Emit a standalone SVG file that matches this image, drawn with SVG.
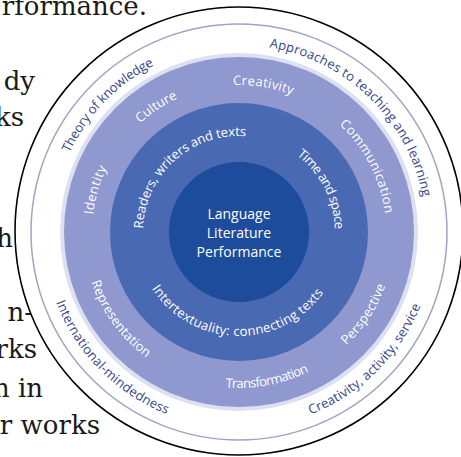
<svg xmlns="http://www.w3.org/2000/svg" width="461" height="457" viewBox="0 0 461 457">
<style>
.body{font-family:"DejaVu Serif","Liberation Serif",serif;font-size:26px;fill:#1a1a1a;text-anchor:end}
.o{font-family:"Open Sans","Noto Sans",sans-serif;font-size:13px;fill:#34468a}
.w{font-family:"Open Sans","Noto Sans",sans-serif;font-size:13px;fill:#ffffff}
.c{font-family:"Open Sans","Noto Sans",sans-serif;font-size:14px;fill:#ffffff;text-anchor:middle}
</style>
<defs>
<path id="p-tok" d="M69.5,153.0 A187,187 0 0 1 157.0,63.9"/>
<path id="p-atl" d="M269.2,47.4 A187,187 0 0 1 423.2,199.8"/>
<path id="p-cas" d="M310.5,414.5 A196,196 0 0 0 421.5,303.5"/>
<path id="p-im" d="M56.0,302.2 A196,196 0 0 0 168.8,415.0"/>
<path id="p-identity" d="M93.0,214.8 A147,147 0 0 1 107.3,166.6"/>
<path id="p-culture" d="M140.1,123.2 A147,147 0 0 1 178.7,97.9"/>
<path id="p-creativity" d="M233.1,85.1 A147,147 0 0 1 293.1,95.3"/>
<path id="p-communication" d="M339.3,124.5 A147,147 0 0 1 385.1,215.4"/>
<path id="p-perspective" d="M346.2,345.3 A156,156 0 0 0 386.0,284.3"/>
<path id="p-transformation" d="M225.4,387.4 A156,156 0 0 0 309.8,371.0"/>
<path id="p-representation" d="M91.2,282.0 A156,156 0 0 0 148.2,358.8"/>
<path id="p-rwt" d="M143.1,228.6 A96,96 0 0 1 248.2,136.4"/>
<path id="p-ts" d="M296.8,155.3 A96,96 0 0 1 335.0,231.0"/>
<path id="p-it" d="M151.8,288.6 A104,104 0 0 0 325.2,290.2"/>
</defs>
<rect width="461" height="457" fill="#ffffff"/>
<g id="page-text">
<text class="body" x="147" y="15">rformance.</text>
<text class="body" x="35" y="90">dy</text>
<text class="body" x="24" y="126">ks</text>
<text class="body" x="13" y="247">h</text>
<text class="body" x="33" y="321">n-</text>
<text class="body" x="37" y="358">rks</text>
<text class="body" x="43" y="397">n in</text>
<text class="body" x="100" y="434">r works</text>
</g>
<g id="outer-ring">
<circle cx="239" cy="231" r="224" fill="#ffffff" stroke="#000000" stroke-width="1.6"/>
<circle cx="239" cy="232" r="208" fill="none" stroke="#9ea5c4" stroke-width="1.5"/>
<circle cx="239" cy="232" r="179" fill="#dde0f1"/>
<text class="o"><textPath href="#p-tok" textLength="124">Theory of knowledge</textPath></text>
<text class="o"><textPath href="#p-atl" textLength="228">Approaches to teaching and learning</textPath></text>
<text class="o"><textPath href="#p-cas" textLength="159">Creativity, activity, service</textPath></text>
<text class="o"><textPath href="#p-im" textLength="162">International-mindedness</textPath></text>
</g>
<g id="concepts-ring">
<circle cx="239" cy="232" r="175" fill="#8f98cf"/>
<text class="w"><textPath href="#p-identity" textLength="49">Identity</textPath></text>
<text class="w"><textPath href="#p-culture" textLength="45">Culture</textPath></text>
<text class="w"><textPath href="#p-creativity" textLength="60">Creativity</textPath></text>
<text class="w"><textPath href="#p-communication" textLength="102">Communication</textPath></text>
<text class="w"><textPath href="#p-perspective" textLength="72">Perspective</textPath></text>
<text class="w"><textPath href="#p-transformation" textLength="86">Transformation</textPath></text>
<text class="w"><textPath href="#p-representation" textLength="95">Representation</textPath></text>
</g>
<g id="areas-ring">
<circle cx="239" cy="232" r="129" fill="#4a69b3"/>
<text class="w"><textPath href="#p-rwt" textLength="154">Readers, writers and texts</textPath></text>
<text class="w"><textPath href="#p-ts" textLength="86">Time and space</textPath></text>
<text class="w"><textPath href="#p-it" textLength="202">Intertextuality: connecting texts</textPath></text>
</g>
<g id="core">
<circle cx="239" cy="232" r="70" fill="#1c4c9b"/>
<text class="c" x="239" y="219">Language</text>
<text class="c" x="239" y="238">Literature</text>
<text class="c" x="239" y="257">Performance</text>
</g>
<g id="connectors"/>
</svg>
